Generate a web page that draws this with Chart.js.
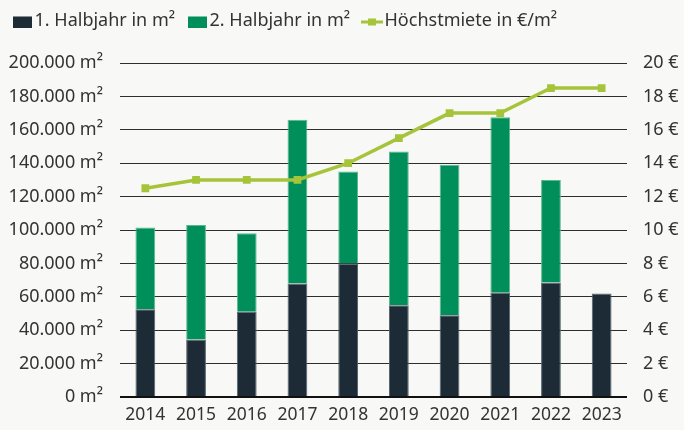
<!DOCTYPE html>
<html>
<head>
<meta charset="utf-8">
<script src="https://cdn.jsdelivr.net/npm/chart.js@4/dist/chart.umd.min.js"></script>
<style>
  html, body { margin: 0; padding: 0; background: #f8f8f6; }
  canvas { display: block; }
</style>
</head>
<body>
<canvas id="areaChart" width="684" height="430"></canvas>
<script>
// --- Data ---
const years = ['2014', '2015', '2016', '2017', '2018', '2019', '2020', '2021', '2022', '2023'];
const firstHalf = [52500, 34500, 51000, 68000, 80000, 55000, 49000, 62500, 68500, 62000];
const secondHalf = [49000, 68500, 47000, 98000, 55000, 92000, 90000, 105000, 61500, null];
const maxRent = [12.5, 13, 13, 13, 14, 15.5, 17, 17, 18.5, 18.5];
const seriesNames = ['1. Halbjahr in m²', '2. Halbjahr in m²', 'Höchstmiete in €/m²'];

const DARK = '#1c2b36';
const GREEN = '#008f5a';
const LIME = '#a6c43a';
const TEXT = '#333333';

// small legend symbols drawn into canvases (used as pointStyle images)
function boxIcon(color) {
    const c = document.createElement('canvas');
    c.width = 19; c.height = 14;
    const g = c.getContext('2d');
    g.fillStyle = color;
    g.fillRect(0, 3, 19, 11);
    return c;
}
function lineIcon(color) {
    const c = document.createElement('canvas');
    c.width = 22; c.height = 14;
    const g = c.getContext('2d');
    g.fillStyle = color;
    g.fillRect(0, 7, 22, 3);
    g.fillRect(7, 5, 8, 7);
    return c;
}
const icons = [boxIcon(DARK), boxIcon(GREEN), lineIcon(LIME)];

function thousands(v) {
    return String(v).replace(/\B(?=(\d{3})+(?!\d))/g, '.');
}

// legend block gets a fixed height so the plot starts where it should
const legendHeight = {
    id: 'legendHeight',
    beforeInit(chart) {
        const fit = chart.legend.fit;
        chart.legend.fit = function () {
            fit.bind(chart.legend)();
            this.height = 70;
        };
    }
};

const ctx = document.getElementById('areaChart').getContext('2d');
const chart = new Chart(ctx, {
    type: 'bar',
    data: {
        labels: years,
        datasets: [
            {
                type: 'line',
                label: seriesNames[2],
                data: maxRent,
                yAxisID: 'yRent',
                borderColor: LIME,
                backgroundColor: LIME,
                borderWidth: 3.5,
                pointStyle: 'rect',
                pointRadius: 5.5,
                pointBorderWidth: 0,
                order: 0
            },
            {
                label: seriesNames[0],
                data: firstHalf,
                backgroundColor: DARK,
                borderColor: '#56636c',
                borderWidth: 1,
                stack: 'area',
                order: 1
            },
            {
                label: seriesNames[1],
                data: secondHalf,
                backgroundColor: GREEN,
                borderColor: '#5cb78e',
                borderWidth: 1,
                stack: 'area',
                order: 1
            }
        ]
    },
    options: {
        responsive: false,
        animation: false,
        devicePixelRatio: 1,
        layout: { padding: { top: -7, left: 0, right: 0, bottom: 0 } },
        datasets: {
            bar: { barPercentage: 0.39, categoryPercentage: 1 }
        },
        plugins: {
            tooltip: { enabled: false },
            legend: {
                position: 'top',
                align: 'start',
                labels: {
                    usePointStyle: true,
                    boxWidth: 7,
                    boxHeight: 18,
                    padding: 18.5,
                    color: TEXT,
                    font: { family: 'Noto Sans', size: 18 },
                    generateLabels: function (chart) {
                        // legend order: 1. Halbjahr, 2. Halbjahr, Höchstmiete
                        return [1, 2, 0].map(function (i, k) {
                            return {
                                text: chart.data.datasets[i].label,
                                pointStyle: icons[k],
                                fontColor: TEXT,
                                lineWidth: 0,
                                datasetIndex: i
                            };
                        });
                    }
                }
            }
        },
        scales: {
            x: {
                stacked: true,
                grid: { display: false, drawTicks: false },
                border: { display: false },
                ticks: {
                    color: TEXT,
                    padding: 8,
                    font: { family: 'Noto Sans', size: 17.5 }
                },
                afterFit: function (scale) { scale.height = 33; }
            },
            y: {
                stacked: true,
                position: 'left',
                min: 0,
                max: 200000,
                border: { display: false },
                grid: {
                    drawTicks: false,
                    color: function (c) { return c.tick.value === 0 ? '#111111' : '#2e2e2e'; },
                    lineWidth: function (c) { return c.tick.value === 0 ? 2 : 1; }
                },
                ticks: {
                    stepSize: 20000,
                    padding: 17,
                    color: TEXT,
                    font: { family: 'Noto Sans', size: 18 },
                    callback: function (v) { return thousands(v) + ' m²'; }
                },
                afterFit: function (scale) { scale.width = 120; }
            },
            yRent: {
                position: 'right',
                min: 0,
                max: 20,
                border: { display: false },
                grid: { display: false, drawTicks: false },
                ticks: {
                    stepSize: 2,
                    padding: 16,
                    color: TEXT,
                    font: { family: 'Noto Sans', size: 18 },
                    callback: function (v) { return v + ' €'; }
                },
                afterFit: function (scale) { scale.width = 57; }
            }
        }
    },
    plugins: [legendHeight]
});
</script>
</body>
</html>
